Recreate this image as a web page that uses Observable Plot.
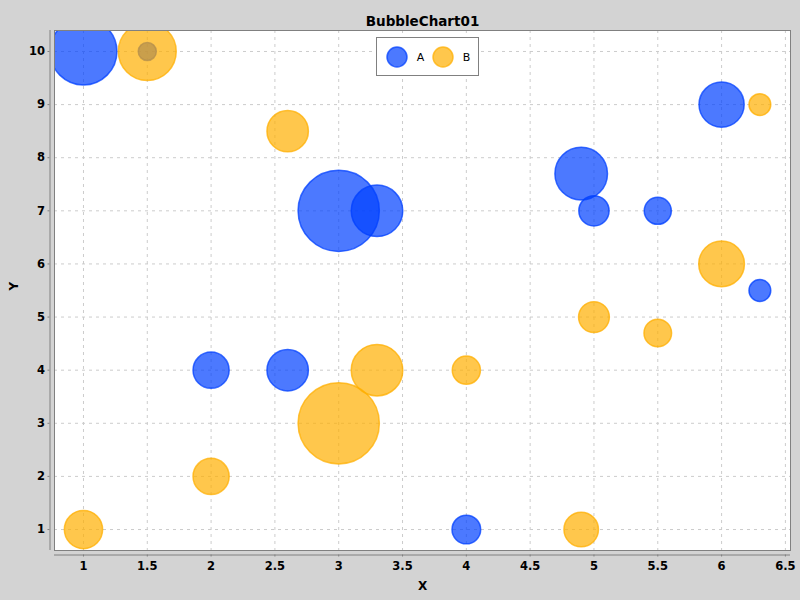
<!DOCTYPE html>
<html>
<head>
<meta charset="utf-8">
<script src="https://cdn.jsdelivr.net/npm/d3@7"></script>
<script src="https://cdn.jsdelivr.net/npm/@observablehq/plot@0.6"></script>
<style>
  html, body { margin: 0; padding: 0; background: #d3d3d3; }
  #wrap { position: relative; width: 800px; height: 600px; overflow: hidden; }
  #legend { position: absolute; left: 376px; top: 37px; width: 101px; height: 37px;
            background: white; border: 1px solid #808080; }
</style>
</head>
<body>
<div id="wrap">
  <div id="chart"></div>
  <div id="legend"></div>
</div>
<script>
const title = "BubbleChart01";
const seriesNames = ["A", "B"];
const seriesFill = ["#0040ff", "#ffaf00"];

// Series A
const aX = [1, 1.5, 3, 3.3, 4.9, 5, 5.5, 6, 6.3, 2, 2.6, 4];
const aY = [10, 10, 7, 7, 7.7, 7, 7, 9, 5.5, 4, 4, 1];
const aZ = [1.26, 0.34, 1.53, 0.97, 0.99, 0.57, 0.51, 0.85, 0.41, 0.68, 0.78, 0.54];

// Series B
const bX = [1.5, 2.6, 6.3, 6, 5, 5.5, 3.3, 4, 3, 2, 1, 4.9];
const bY = [10, 8.5, 9, 6, 5, 4.7, 4, 4, 3, 2, 1, 1];
const bZ = [1.09, 0.78, 0.41, 0.86, 0.58, 0.52, 0.97, 0.53, 1.53, 0.68, 0.72, 0.65];

const xTicks = [1, 1.5, 2, 2.5, 3, 3.5, 4, 4.5, 5, 5.5, 6, 6.5];
const yTicks = [1, 2, 3, 4, 5, 6, 7, 8, 9, 10];
const xDomain = [0.773, 6.54];
const yDomain = [0.605, 10.395];
const xLabel = "X";
const yLabel = "Y";

const W = 800, H = 600, mL = 54, mR = 10, mT = 30, mB = 50;
// bubble diameter is measured in range-axis units
const pxPerY = (H - mT - mB) / (yDomain[1] - yDomain[0]);

const dataA = aX.map((x, i) => ({x, y: aY[i], z: aZ[i]}));
const dataB = bX.map((x, i) => ({x, y: bY[i], z: bZ[i]}));

const grid = {stroke: "#cccccc", strokeOpacity: 1, strokeDasharray: "3,4", strokeWidth: 1};
const bubble = (c) => ({x: "x", y: "y", r: "z", fill: c, fillOpacity: 0.7, stroke: c, strokeOpacity: 0.75, strokeWidth: 1.5, clip: "frame"});

const chart = Plot.plot({
  width: W, height: H,
  marginLeft: mL, marginRight: mR, marginTop: mT, marginBottom: mB,
  style: {background: "#d3d3d3", fontFamily: "'DejaVu Sans', sans-serif", fontSize: "11.5px", fontWeight: "bold", color: "black"},
  x: {domain: xDomain},
  y: {domain: yDomain},
  r: {type: "linear", domain: [0, 1], range: [0, pxPerY / 2], clamp: false},
  marks: [
    Plot.frame({fill: "white"}),
    Plot.gridX(xTicks, grid),
    Plot.gridY(yTicks, grid),
    Plot.dot(dataA, bubble(seriesFill[0])),
    Plot.dot(dataB, bubble(seriesFill[1])),
    Plot.frame({stroke: "#808080", strokeWidth: 1}),
    Plot.ruleX([xDomain[0]], {dx: -4.5, stroke: "#808080", strokeWidth: 1}),
    Plot.ruleY([yDomain[0]], {dy: 4.5, stroke: "#808080", strokeWidth: 1}),
    Plot.axisX(xTicks, {anchor: "bottom", dy: 4.5, tickSize: 2, tickPadding: 5, stroke: "#808080", tickFormat: d => String(d), label: null}),
    Plot.axisY(yTicks, {anchor: "left", dx: -4.5, tickSize: 2, tickPadding: 3, stroke: "#808080", tickFormat: d => String(d), label: null}),
    Plot.text([xLabel], {frameAnchor: "bottom", lineAnchor: "middle", dy: 36, fontSize: 12, fontWeight: "bold", fill: "black"}),
    Plot.text([yLabel], {frameAnchor: "left", lineAnchor: "middle", dx: -40, rotate: -90, fontSize: 12, fontWeight: "bold", fill: "black"}),
    Plot.text([title], {frameAnchor: "top", lineAnchor: "middle", dy: -9, fontSize: 13.5, fontWeight: "bold", fill: "black"})
  ]
});
document.getElementById("chart").appendChild(chart);

// legend
const lg = d3.select("#legend").append("svg").attr("width", 101).attr("height", 37);
const lx = [20, 66];
seriesNames.forEach((name, i) => {
  lg.append("circle").attr("cx", lx[i]).attr("cy", 19).attr("r", 10)
    .attr("fill", seriesFill[i]).attr("fill-opacity", 0.7)
    .attr("stroke", seriesFill[i]).attr("stroke-opacity", 0.75).attr("stroke-width", 1.5);
  lg.append("text").attr("x", lx[i] + 23.5).attr("y", 19).attr("dy", "0.35em")
    .attr("text-anchor", "middle").attr("font-family", "'DejaVu Sans', sans-serif")
    .attr("font-size", 11).text(name);
});
</script>
</body>
</html>
